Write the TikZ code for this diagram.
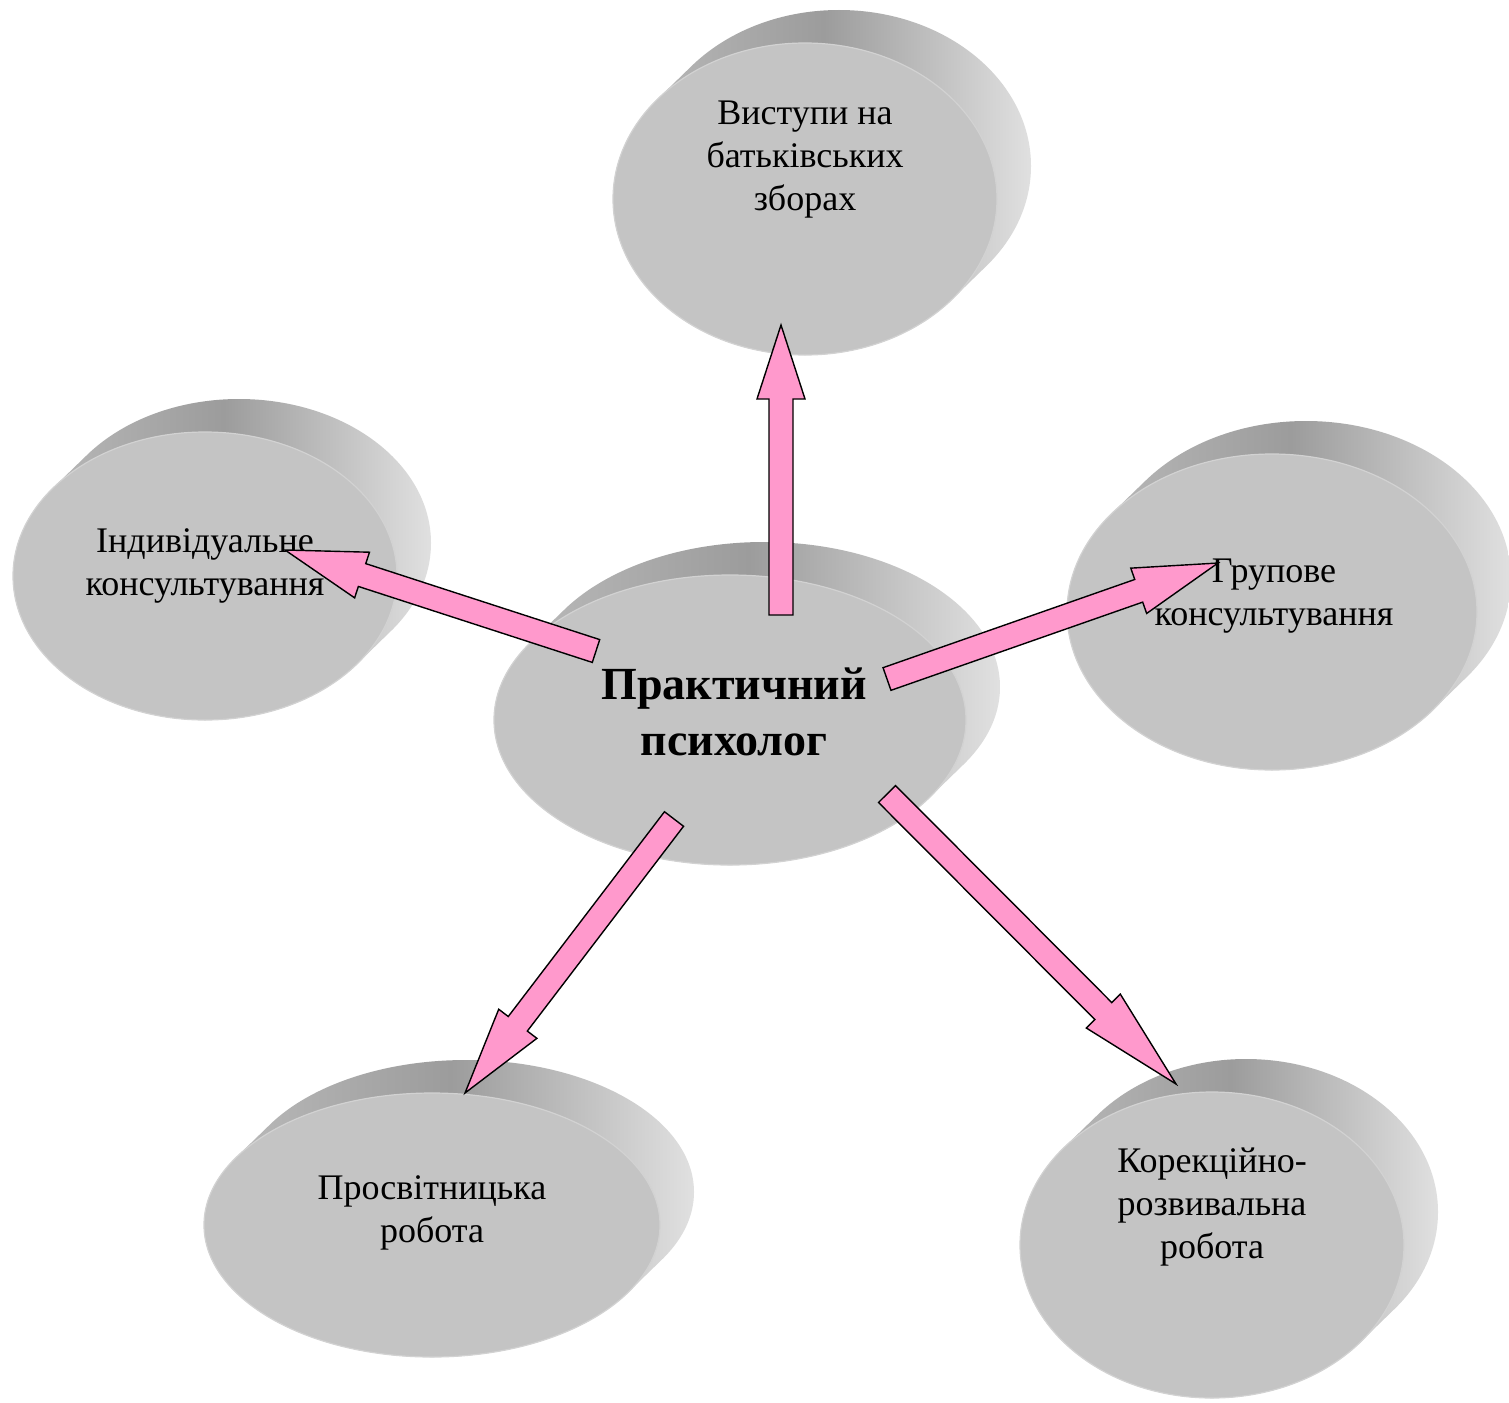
\documentclass[tikz,border=0pt]{standalone}
\usepackage{fontspec}
\setmainfont{Liberation Serif}
\usetikzlibrary{calc,shapes.geometric}
\definecolor{pinkA}{HTML}{FF99CC}
\definecolor{faceC}{HTML}{C4C4C4}
\definecolor{rimC}{HTML}{D2D2D2}
\definecolor{sideL}{HTML}{BDBDBD}
\definecolor{sideM}{HTML}{9C9C9C}
\definecolor{sideR}{HTML}{E2E2E2}
\tikzset{
  frontdisc/.style={ellipse, fill=faceC, draw=rimC, line width=1.2pt, inner sep=0pt},
  lbl/.style={align=center, font=\fontsize{36}{43}\selectfont, text=black, inner sep=0pt},
  mainlbl/.style={align=center, font=\fontsize{46}{56}\selectfont\bfseries, text=black, inner sep=0pt},
  blockarrow/.style={fill=pinkA, draw=black, line width=1.4pt, line join=miter},
}
% #1 name, #2 cx, #3 cy, #4 rx, #5 ry  (image pixel coordinates)
\newcommand\mydisc[5]{%
  \begin{scope}
    \clip foreach \t in {0,...,20} {(#2+1.7*\t,#3-1.65*\t) ellipse ({#4} and {#5})};
    \shade[left color=sideL, right color=sideR, middle color=sideM]
      (#2-#4-2,#3-#5-40) rectangle (#2+#4+40,#3+#5+2);
  \end{scope}
  \node[frontdisc, minimum width=2*#4, minimum height=2*#5] (#1) at (#2,#3) {};
}
% #1 tail coordinate, #2 tip coordinate, #3 head length
\newcommand\myblockarrow[3]{%
  \path let \p1=(#1), \p2=(#2) in
    \pgfextra{\pgfmathsetmacro\myang{atan2(\y2-\y1,\x2-\x1)}%
              \pgfmathsetmacro\mylen{veclen(\x2-\x1,\y2-\y1)}%
              \global\let\MyAng\myang \global\let\MyLen\mylen};
  \begin{scope}[shift={(#1)}, rotate=\MyAng]
    \draw[blockarrow] (0,-12) -- ({\MyLen-#3},-12) -- ({\MyLen-#3},-24) -- ({\MyLen},0)
      -- ({\MyLen-#3},24) -- ({\MyLen-#3},12) -- (0,12) -- cycle;
  \end{scope}
}
\begin{document}
\begin{tikzpicture}[x=1pt,y=-1pt]
\useasboundingbox (0,0) rectangle (1509,1402);
\fill[white] (0,0) rectangle (1509,1402);

\mydisc{top}{805}{199}{192}{156}
\mydisc{left}{205}{576}{192}{144}
\mydisc{right}{1272}{612}{205}{158}
\mydisc{botl}{432}{1225}{228}{132}
\mydisc{botr}{1212}{1245}{192}{153}
\mydisc{center}{730}{720}{236}{145}

\node[lbl] (topT) at (805,160) {Виступи на\\батьківських\\зборах};
\node[lbl] (leftT) at (205,566) {Індивідуальне\\консультування};
\node[lbl] (rightT) at (1274,596) {Групове\\консультування};
\node[lbl] (botlT) at (432,1213) {Просвітницька\\робота};
\node[lbl] (botrT) at (1212,1207) {Корекційно-\\розвивальна\\робота};
\node[mainlbl] (centerT) at (734,712) {Практичний\\психолог};

\coordinate (tUp) at (781,615);   \coordinate (hUp) at (781,325);
\coordinate (tL) at (596,651);    \coordinate (hL) at (285,550);
\coordinate (tR) at (887,679);    \coordinate (hR) at (1218,563);
\coordinate (tDL) at (674,819);   \coordinate (hDL) at (465,1093);
\coordinate (tDR) at (887,794);   \coordinate (hDR) at (1176,1084);

\myblockarrow{tUp}{hUp}{74}
\myblockarrow{tL}{hL}{81}
\myblockarrow{tR}{hR}{84}
\myblockarrow{tDL}{hDL}{87}
\myblockarrow{tDR}{hDR}{103}
\end{tikzpicture}
\end{document}
